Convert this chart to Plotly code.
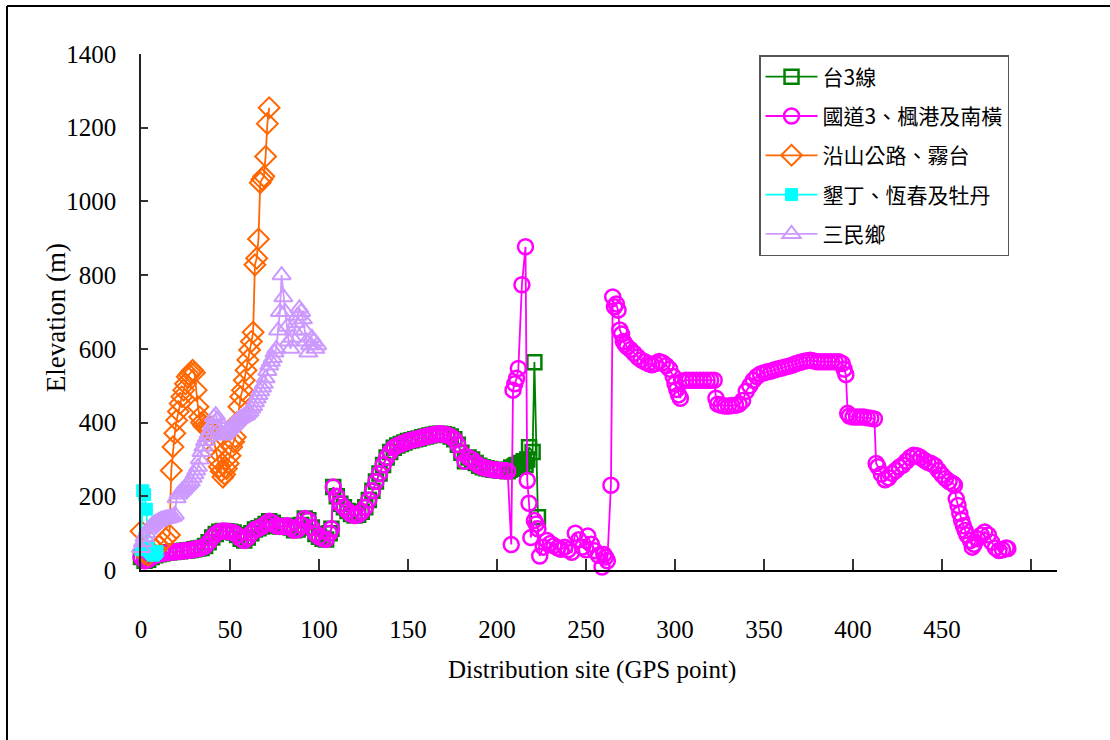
import plotly.graph_objects as go

# ---------------- data ----------------
# shared path of 台3線 and 國道3、楓港及南橫 (GPS points 0-206)
shared_x = [0, 2, 4, 6, 8, 10, 12, 14, 16, 18, 20, 22, 24, 26, 28, 30, 32, 34, 36, 38,
            40, 42, 44, 46, 48, 50, 52, 54, 56, 58, 60, 62, 64, 66, 68, 70, 72, 74, 76, 78,
            80, 82, 84, 86, 88, 90, 92, 94, 96, 98, 100, 102, 104, 106, 107, 108, 110, 112, 114, 116,
            118, 120, 122, 124, 126, 128, 130, 132, 134, 136, 138, 140, 142, 144, 146, 148, 150, 152, 154, 156,
            158, 160, 162, 164, 166, 168, 170, 172, 174, 176, 178, 180, 182, 184, 186, 188, 190, 192, 194, 196,
            198, 200, 202, 204, 206]
shared_y = [35, 25, 28, 35, 40, 43, 45, 47, 48, 49, 50, 51, 52, 53, 54, 56, 58, 60, 65, 75,
            88, 98, 104, 106, 105, 104, 102, 95, 85, 80, 88, 100, 110, 113, 118, 125, 132, 128, 120, 118,
            118, 120, 115, 108, 110, 122, 140, 135, 115, 98, 90, 85, 83, 100, 112, 225, 200, 180, 170, 160,
            152, 148, 150, 158, 170, 190, 215, 240, 262, 285, 305, 320, 332, 338, 342, 346, 350, 352, 355, 357,
            360, 362, 365, 367, 369, 370, 368, 366, 362, 355, 340, 318, 295, 305, 300, 290, 283, 279, 276, 274,
            272, 271, 270, 270, 268]

# 台3線 tail
tai3_tail_x = [207, 208, 209, 210, 211, 212, 213, 214, 215, 216, 217, 218, 220, 221, 223]
tai3_tail_y = [272, 278, 275, 282, 285, 280, 290, 288, 295, 285, 300, 333, 320, 564, 143]

# 國道3、楓港及南橫 tail
road_tail_x = [208, 209, 210, 211, 212, 214, 216, 217, 218, 219, 221, 222, 223, 224,
               226, 228, 230, 232, 234, 236, 238, 240, 242, 244, 246, 248, 250, 251, 253, 255,
               257, 259, 260, 261, 262, 264, 265, 266, 267, 268, 269, 270, 271, 272, 273, 275,
               277, 279, 281, 283, 285, 287, 289, 291, 293, 295, 297, 299, 300, 301, 302, 303,
               304, 306, 308, 310, 312, 314, 316, 318, 320, 322, 323, 324, 326, 328, 330, 332,
               334, 336, 338, 340, 342, 344, 346, 348, 350, 352, 354, 356, 358, 360, 362, 364,
               366, 368, 370, 372, 374, 376, 378, 380, 382, 384, 386, 388, 390, 392, 394, 395,
               396, 397, 398, 400, 402, 404, 406, 408, 410, 412, 413, 414, 416, 418, 420, 422,
               424, 426, 428, 430, 432, 434, 436, 438, 440, 442, 444, 446, 448, 450, 452, 454,
               456, 457, 458, 459, 460, 461, 462, 463, 464, 466, 467, 468, 470, 472, 474, 476,
               478, 480, 482, 484, 486, 487]
road_tail_y = [69, 488, 505, 520, 547, 774, 877, 243, 181, 88, 134, 125, 112, 38,
               62, 80, 72, 66, 60, 56, 62, 55, 48, 100, 82, 62, 55, 92, 70, 52,
               40, 8, 42, 35, 25, 230, 741, 714, 722, 705, 651, 640, 620, 612, 606, 598,
               588, 578, 570, 565, 560, 557, 560, 566, 562, 555, 545, 525, 505, 490, 475, 466,
               512, 515, 515, 515, 515, 515, 515, 515, 515, 515, 466, 450, 447, 445, 445, 446,
               447, 450, 460, 485, 500, 515, 525, 532, 535, 538, 540, 543, 546, 548, 551, 553,
               556, 560, 563, 566, 568, 569, 567, 565, 565, 565, 565, 565, 565, 565, 560, 545,
               530, 425, 418, 415, 415, 415, 415, 413, 412, 410, 289, 280, 260, 245, 250, 262,
               270, 279, 285, 295, 305, 311, 310, 305, 298, 292, 289, 283, 270, 258, 248, 240,
               235, 230, 193, 175, 153, 135, 120, 107, 95, 80, 62, 70, 85, 95, 103, 95,
               75, 60, 53, 55, 60, 58]

# 沿山公路、霧台
mtn_x = [0, 2, 4, 6, 8, 10, 12, 14, 16, 17, 18, 19, 20, 21, 22, 23, 24, 25, 26, 27,
         28, 29, 30, 31, 32, 33, 34, 35, 36, 37, 38, 39, 40, 41, 42, 43, 44, 45, 46, 47,
         48, 49, 50, 51, 52, 53, 54, 55, 56, 57, 58, 59, 60, 61, 62, 63, 64, 65, 66, 67,
         68, 69, 70, 71, 72]
mtn_y = [105, 45, 40, 50, 55, 65, 75, 85, 95, 270, 334, 371, 406, 430, 452, 470, 488, 505, 524, 530,
         536, 542, 535, 488, 443, 415, 400, 393, 388, 385, 379, 383, 375, 350, 325, 300, 280, 268, 252, 260,
         275, 289, 310, 334, 348, 361, 400, 443, 470, 488, 515, 542, 570, 597, 620, 645, 828, 846, 898, 1051,
         1060, 1068, 1122, 1211, 1254]

# 墾丁、恆春及牡丹
kenting_x = [0, 1, 2, 3, 4, 5, 6, 7, 8, 9]
kenting_y = [55, 215, 205, 165, 60, 50, 45, 40, 45, 50]

# 三民鄉
sanmin_x = [0, 1, 2, 3, 4, 5, 6, 7, 8, 9, 10, 11, 12, 13, 14, 15, 16, 17, 18, 19,
            20, 21, 22, 23, 24, 25, 26, 27, 28, 29, 30, 31, 32, 33, 34, 35, 36, 37, 38, 39,
            40, 41, 42, 43, 44, 45, 46, 47, 48, 49, 50, 51, 52, 53, 54, 55, 56, 57, 58, 59,
            60, 61, 62, 63, 64, 65, 66, 67, 68, 69, 70, 71, 72, 73, 74, 75, 76, 77, 78, 79,
            80, 81, 82, 83, 84, 85, 86, 87, 88, 89, 90, 91, 92, 93, 94, 95, 96, 97, 98, 99]
sanmin_y = [60, 75, 90, 100, 110, 115, 120, 125, 128, 130, 133, 135, 137, 138, 140, 140, 142, 143, 145, 150,
            195, 205, 210, 215, 220, 225, 230, 235, 240, 250, 260, 270, 280, 300, 320, 335, 350, 360, 370, 380,
            395, 415, 420, 410, 380, 370, 365, 370, 375, 380, 385, 390, 395, 400, 405, 410, 412, 415, 418, 420,
            425, 430, 438, 445, 455, 465, 475, 485, 495, 505, 520, 540, 555, 565, 575, 590, 600, 650, 700, 800,
            740, 700, 660, 620, 600, 630, 650, 670, 690, 710, 700, 680, 650, 620, 590, 610, 630, 620, 600, 610]

names = ["台3線", "國道3、楓港及南橫", "沿山公路、霧台", "墾丁、恆春及牡丹", "三民鄉"]
colors = ["#008000", "#FF00FF", "#FF6600", "#00FFFF", "#CC99FF"]
x_tick_vals = [0, 50, 100, 150, 200, 250, 300, 350, 400, 450, 500]
x_tick_text = ["0", "50", "100", "150", "200", "250", "300", "350", "400", "450", ""]
y_tick_vals = [0, 200, 400, 600, 800, 1000, 1200, 1400]

# ---------------- figure ----------------
serif = "Liberation Serif"
fig = go.Figure()

series = [
    (shared_x + tai3_tail_x, shared_y + tai3_tail_y, "square-open", 14, 2.5),
    (shared_x + road_tail_x, shared_y + road_tail_y, "circle-open", 15, 2.5),
    (mtn_x, mtn_y, "diamond-open", 16, 2),
    (kenting_x, kenting_y, "square", 12, 1),
    (sanmin_x, sanmin_y, "triangle-up-open", 16, 2),
]
for i, (xs, ys, sym, sz, lw) in enumerate(series):
    fig.add_trace(go.Scatter(
        x=xs, y=ys, mode="lines+markers", name=names[i],
        legendgroup=f"g{i}",
        line=dict(color=colors[i], width=1.8),
        marker=dict(symbol=sym, size=sz, color=colors[i],
                    line=dict(color=colors[i], width=lw)),
        cliponaxis=False,
    ))

fig.update_layout(
    width=1110, height=740,
    margin=dict(l=141, r=53, t=54, b=170),
    paper_bgcolor="white", plot_bgcolor="white",
    showlegend=True,
    legend=dict(x=0.6747, y=0.998, xanchor="left", yanchor="top",
                bgcolor="white", bordercolor="#555", borderwidth=1.5,
                font=dict(family="Noto Sans CJK TC", size=21, color="black"),
                tracegroupgap=9, itemwidth=52),
    xaxis=dict(range=[0, 514.6], showline=True, linecolor="black", linewidth=2,
               ticks="inside", ticklen=11, tickwidth=1.5, tickcolor="#333",
               tickvals=x_tick_vals, ticktext=x_tick_text,
               tickfont=dict(family=serif, size=25, color="black"),
               ticklabelstandoff=36, showgrid=False, zeroline=False),
    yaxis=dict(range=[0, 1400], showline=True, linecolor="#222", linewidth=1.5,
               ticks="inside", ticklen=7, tickwidth=1.5, tickcolor="#333",
               tickvals=y_tick_vals,
               tickfont=dict(family=serif, size=25, color="black"),
               ticklabelstandoff=18, showgrid=False, zeroline=False),
    annotations=[
        dict(text="Elevation (m)", xref="paper", yref="paper", x=-0.0928, y=0.49,
             textangle=-90, showarrow=False, xanchor="center", yanchor="middle",
             font=dict(family=serif, size=27, color="black")),
        dict(text="Distribution site (GPS point)", xref="paper", yref="paper",
             x=0.4924, y=-0.1938, showarrow=False, xanchor="center", yanchor="middle",
             font=dict(family=serif, size=25, color="black")),
    ],
    shapes=[
        dict(type="line", xref="paper", yref="paper", x0=-0.1463, x1=1.08, y0=1.093, y1=1.093,
             line=dict(color="black", width=2)),
        dict(type="line", xref="paper", yref="paper", x0=-0.1463, x1=-0.1463, y0=1.093, y1=-0.36,
             line=dict(color="black", width=2)),
    ],
)

fig.write_html("out.html", config={"displayModeBar": False},
               post_script="document.body.style.margin='0';document.body.style.overflow='hidden';")
